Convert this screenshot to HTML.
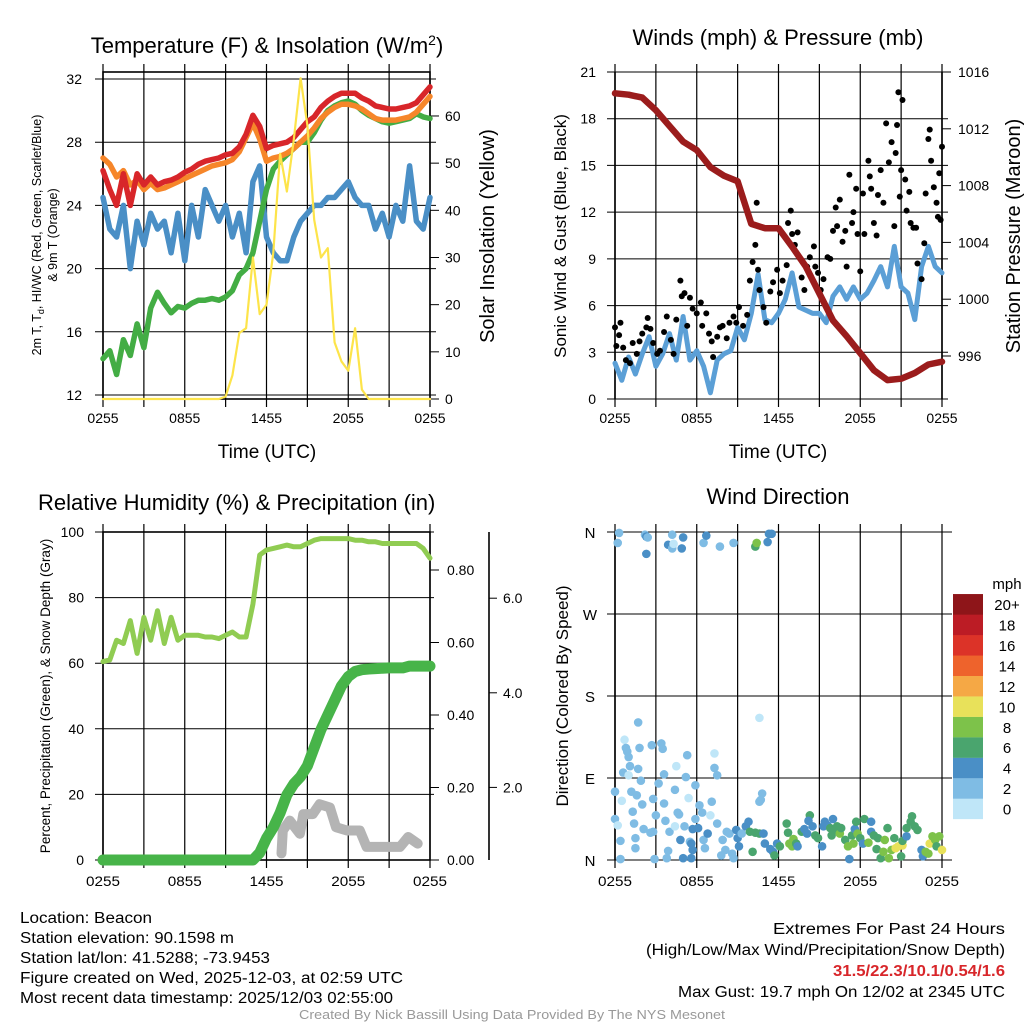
<!DOCTYPE html>
<html><head><meta charset="utf-8"><style>
html,body{margin:0;padding:0;background:#fff}
svg{display:block}
text{font-family:"Liberation Sans",sans-serif}
</style></head><body>
<svg id="c" width="1024" height="1024" viewBox="0 0 1024 1024"></svg>
<script>
// ---------- data ----------
const halfHours = Array.from({length:49},(_,k)=>k*0.5);
const tempRed = [26.2,25,24.0,26.0,24.0,26.0,25.3,25.8,25.3,25.5,25.6,25.8,26.1,26.3,26.6,26.8,26.9,27.0,27.2,27.3,27.7,28.5,29.7,29.0,27.6,27.8,27.9,28.0,28.3,28.8,29.3,29.6,30.2,30.6,30.9,31.1,31.1,31.1,30.8,30.6,30.3,30.2,30.1,30.1,30.2,30.3,30.5,31.0,31.5];
const tempOrange = [27.0,26.6,25.8,26.2,25.3,25.6,25.0,25.4,25.0,25.1,25.3,25.5,25.7,25.9,26.1,26.3,26.5,26.6,26.7,26.9,27.4,28.3,29.2,28.2,26.8,27.0,27.1,27.3,27.6,28.0,28.4,28.9,29.5,29.9,30.2,30.4,30.4,30.3,30.1,29.8,29.5,29.4,29.4,29.4,29.5,29.6,29.9,30.4,30.9];
const dewGreen = [14.3,14.8,13.3,15.5,14.5,16.5,15.0,17.5,18.5,17.8,17.2,17.6,17.5,17.8,18.0,18.0,18.1,18.0,18.2,18.6,19.6,20.0,21.0,23.0,25.0,26.3,26.8,27.2,27.6,28.0,28.0,28.6,29.4,30.0,30.3,30.5,30.6,30.4,30.0,29.7,29.5,29.3,29.2,29.3,29.4,29.5,29.8,29.6,29.5];
const windChillBlue = [24.5,22.5,22.0,24.0,20.0,23.0,21.5,23.5,22.5,23.0,21.0,23.5,20.5,24.0,22.0,25.0,24.0,23.0,24.0,22.0,23.5,21.0,25.5,26.5,22.0,21.0,20.5,20.5,22.0,23.0,23.5,24.0,24.0,24.5,24.5,25.0,25.5,24.5,24.0,24.0,22.5,23.5,22.0,24.0,23.0,26.5,23.0,22.5,24.5];
const insolation = [0,0,0,0,0,0,0,0,0,0,0,0,0,0,0,0,0,0,0.5,5,14,15,30,18,20,31,52,44,55,68,58,38,30,32,12,8,6,15,2,0,0,0,0,0,0,0,0,0,0];
const windSpeed = [2.3,1.2,2.7,1.6,2.9,4.0,2.1,2.9,4.2,2.5,5.3,2.5,3.1,2.1,0.4,2.5,2.9,3.1,4.6,3.8,5.5,8.0,5.1,4.9,5.5,6.4,8.1,5.9,5.7,5.5,5.5,4.9,6.6,7.2,6.4,7.2,6.4,6.8,7.6,8.5,7.2,9.8,7.2,6.8,5.1,8.5,9.8,8.5,8.1];
const pressureHours = [0,1,2,3,4,5,6,7,8,9,10,11,12,13,14,15,16,17,18,19,20,21,22,23,24];
const pressure = [1014.5,1014.4,1014.2,1013.3,1012.2,1011.1,1010.5,1009.3,1008.7,1008.3,1005.3,1005.0,1005.0,1003.7,1002.3,1000.4,998.5,997.4,996.2,995.0,994.3,994.4,994.8,995.4,995.6];
const gustHours = [0,0.1,0.4,0.3,0.6,0.8,1.1,1.3,1.6,1.8,2.0,2.3,2.4,2.6,2.8,3.1,3.3,3.6,3.8,4.1,4.3,4.5,4.8,4.9,5.1,5.3,5.5,5.7,6.0,6.3,6.4,6.7,6.9,7.1,7.2,7.5,7.7,7.9,8.2,8.4,8.7,8.9,9.1,9.4,9.7,9.9,10.1,10.3,10.4,10.5,10.6,10.9,11.1,11.4,11.6,11.9,12.1,12.3,12.6,12.7,12.9,13.0,13.2,13.4,13.6,13.7,13.9,14.1,14.3,14.6,14.7,14.9,15.1,15.3,15.6,15.8,16.0,16.2,16.3,16.5,16.7,16.9,17.0,17.2,17.4,17.5,17.7,17.8,18.0,18.2,18.3,18.6,18.7,18.8,19.0,19.2,19.3,19.5,19.7,19.9,20.1,20.3,20.5,20.6,20.7,20.8,20.9,21.0,21.1,21.3,21.4,21.6,21.7,21.9,22.1,22.2,22.5,22.7,22.8,23.0,23.1,23.2,23.4,23.6,23.7,23.8,24.0,23.9];
const gustSpeed = [4.6,3.4,4.9,4.1,3.3,2.5,2.3,3.6,2.9,3.7,4.2,4.6,5.2,4.5,3.6,2.9,3.1,4.3,5.3,3.8,2.9,5.1,7.6,6.6,6.8,4.7,6.5,5.8,5.5,6.2,4.7,5.5,4.2,3.7,2.7,4.0,4.6,4.7,3.9,4.9,5.3,4.9,5.9,4.7,5.4,7.6,8.8,9.9,12.6,8.3,7.0,5.9,4.9,6.9,7.5,8.3,6.8,7.6,8.6,11.3,12.1,10.6,9.9,10.7,9.0,7.8,7.0,8.5,9.1,9.8,8.5,8.1,7.0,7.7,9.1,9.0,10.8,12.3,11.1,12.8,10.1,10.8,8.5,14.4,11.3,12.0,13.5,10.6,8.2,13.2,10.6,15.3,14.3,13.5,11.3,10.5,13.1,14.7,12.6,17.7,15.2,16.5,11.1,15.8,17.6,19.7,13.0,14.7,19.2,14.1,12.1,13.3,11.3,11.0,11.0,8.7,7.7,10.0,13.2,16.7,17.3,15.3,13.6,12.6,11.7,14.5,16.2,11.5];
const relHumidity = [60.5,61,67,66,73,63,74,67,76,66,74,67,68.5,68.5,68.5,68,68,67.5,68.5,69.5,68,68,78,93,94.5,95,95.5,96,95.5,95.5,96.5,97.5,98,98,98,98,98,97.5,97.5,97,97,96.5,96.5,96.5,96.5,96.5,96.5,95,92];
const precip = [0,0,0,0,0,0,0,0,0,0,0,0,0,0,0,0,0,0,0,0,0,0,0,0.02,0.06,0.09,0.13,0.18,0.21,0.23,0.26,0.31,0.36,0.40,0.44,0.48,0.506,0.52,0.525,0.527,0.528,0.529,0.53,0.53,0.53,0.535,0.535,0.535,0.535];
const snowHours = [13.1,13.2,13.7,14.45,14.7,15.4,15.9,16.65,17.1,17.9,18.85,19.35,20.6,21.8,22.4,23.1];
const snowVals = [2,9,12,8,14,14,17,16,10,9,9,4,4,4,7,5];
const dirHours = [0.3,0.2,2.2,2.3,2.4,2.3,3.9,4.2,4.2,4.3,5.0,4.9,6.5,6.7,7.7,8.7,10.3,10.4,11.2,11.3,11.5,10.6,0.7,0.8,0.9,1.0,1.1,0.6,1.0,1.7,1.8,1.7,1.9,0,0.5,1.2,1.6,2.0,1.3,0,0.2,0.4,1.4,1.5,1.5,0.4,2.1,2.6,2.8,2.7,3.4,3.5,3.6,3.2,3.0,2.8,3.6,3.7,4.0,3.9,3.8,2.9,4.5,4.4,4.6,4.7,4.4,4.8,5.0,5.1,5.3,5.2,5.4,5.5,5.6,5.7,5.6,5.9,5.9,5.7,6.1,6.2,6.4,6.5,6.6,6.8,7.0,7.1,7.3,7.3,7.5,7.5,7.9,8.1,7.8,8.2,8.4,8.6,8.7,8.9,9.0,9.1,9.3,9.6,9.8,10.1,9.9,10.3,10.6,10.6,10.8,10.7,10.9,11.0,11.4,11.6,11.7,11.9,12.1,12.6,12.7,12.8,13.0,13.1,13.3,13.4,13.7,13.9,14.1,14.3,14.2,14.5,14.7,14.9,15.2,15.3,15.4,15.6,15.8,15.9,16.0,16.1,16.3,16.5,16.6,16.9,17.1,17.2,17.4,17.5,17.6,17.7,17.8,18.0,18.2,18.3,18.6,18.8,18.8,19.0,19.2,19.3,19.5,19.7,19.8,20.0,20.1,20.3,20.5,20.6,20.8,21.0,21.1,21.1,21.4,21.4,21.7,21.8,22.0,22.2,22.5,22.6,22.8,23.0,23.1,23.3,23.5,23.6,23.8,24.0];
const dirDegrees = [359,348,357,355,354,336,346,357,342,347,354,342,348,356,344,348,344,348,349,358,358,156,132,123,119,113,103,96,93,151,123,100,87,75,65,75,71,61,53,45,38,21,40,24,13,1,34,30,31,126,128,122,94,84,49,67,62,43,31,10,2,1,103,77,52,50,37,22,2,37,115,91,68,20,18,11,2,82,45,34,35,60,52,22,13,29,49,64,117,101,93,40,22,11,5,31,29,7,2,33,24,15,29,37,42,9,31,30,29,64,73,66,29,18,12,9,5,18,15,40,30,18,15,23,18,15,31,34,29,49,43,37,27,24,15,37,42,38,35,27,45,33,37,29,35,22,15,1,27,18,34,42,29,24,18,45,19,42,31,27,12,24,2,9,22,35,2,11,24,13,15,4,16,21,35,26,42,48,37,33,11,4,9,7,18,26,22,15,26,11];
const dirSpeed = [2,2,2,4,2,4,4,2,2,0,4,4,2,4,2,2,6,8,4,4,4,0,0,2,2,2,2,2,0,2,2,2,2,2,0,2,2,2,2,2,0,2,2,2,2,2,2,2,2,2,2,2,2,2,2,2,2,2,2,2,2,2,0,2,2,2,0,4,4,2,2,2,0,2,4,4,4,2,2,4,4,2,2,2,2,4,0,2,0,2,2,2,2,2,2,2,2,2,2,4,4,4,2,4,4,6,6,6,6,2,2,2,4,4,4,4,6,4,6,6,6,8,8,8,6,4,6,4,4,6,4,4,6,6,4,4,4,4,6,6,4,6,6,8,6,6,8,4,6,8,4,6,8,6,4,6,8,4,4,6,6,6,6,8,8,6,8,8,6,10,10,6,10,6,6,4,6,6,6,6,4,4,8,8,10,8,8,6,8,10];
const speedBinColors = ['#bfe6f8','#7fbce4','#4a8fc6','#4aa56e','#7dc24a','#e8e15a','#f5a845','#ee632c','#dc3328','#bc1c25','#8e1519'];
const speedBinLabels = ['0','2','4','6','8','10','12','14','16','18','20+'];
const timeTickLabels = ['0255','0855','1455','2055','0255'];
const tempTicks = [12,16,20,24,28,32];
const insolTicks = [0,10,20,30,40,50,60];
const windTicks = [0,3,6,9,12,15,18,21];
const presTicks = [996,1000,1004,1008,1012,1016];
const rhTicks = [0,20,40,60,80,100];
const precipTicks = [0,0.2,0.4,0.6,0.8];
const snowTicks = [2,4,6];
const dirTicks = ['N','E','S','W','N'];

// ---------- helpers ----------
const NS='http://www.w3.org/2000/svg';
const svg=document.getElementById('c');
function mk(tag,attrs,parent){const e=document.createElementNS(NS,tag);for(const k in attrs)e.setAttribute(k,attrs[k]);(parent||svg).appendChild(e);return e;}
function txt(s,x,y,size,anchor,parent,extra){const t=mk('text',Object.assign({x:x,y:y,'font-size':size,'text-anchor':anchor||'start',fill:'#000'},extra||{}),parent);t.textContent=s;return t;}
function grp(){return mk('g',{});}

const L0=103,L1=430,R0=615,R1=942;
const xL=h=>L0+h/24*(L1-L0);
const xR=h=>R0+h/24*(R1-R0);
const yTemp=v=>395-(v-12)*15.8;
const yIns=v=>399-v*4.717;
const yWind=v=>399-v*(327/21);
const yPres=p=>356-(p-996)*14.2;
const yRH=v=>860-v*3.28;
const yPrecip=v=>860-v*362.5;
const yDir=d=>860-d*(328/360);

function frame(x0,x1,yt,yb,parent){
  for(let i=0;i<=8;i++){const x=x0+i*(x1-x0)/8;
    const l=mk('line',{x1:x,y1:yt-8,x2:x,y2:yb+8,stroke:'#000','stroke-width':1.2},parent);
    
    }
}
function poly(xs,ys,color,w,parent){
  const pts=xs.map((x,i)=>x.toFixed(1)+','+ys[i].toFixed(1)).join(' ');
  return mk('polyline',{points:pts,fill:'none',stroke:color,'stroke-width':w,'stroke-linejoin':'round','stroke-linecap':'round'},parent);
}

// ===== Panel 1 =====
const p1=grp();


frame(L0,L1,72,399,p1);
tempTicks.forEach(v=>{const y=yTemp(v);
  const l=mk('line',{x1:L0-8,y1:y,x2:L1+6,y2:y,stroke:'#000','stroke-width':1},p1);
  
  
  const t=txt(String(v),82,y+5,14,'end',p1);
  
  });
insolTicks.forEach(v=>{const y=yIns(v);
  mk('line',{x1:L1,y1:y,x2:L1+9,y2:y,stroke:'#000','stroke-width':1},p1);
  const t=txt(String(v),445,y+5,14,'start',p1);
  
  });
mk('rect',{x:L0,y:72,width:L1-L0,height:327,fill:'none',stroke:'#000','stroke-width':1.6},p1);
const sBlue=poly(halfHours.map(xL),windChillBlue.map(yTemp),'#4a8fc6',5.5,p1);


const sGreen=poly(halfHours.map(xL),dewGreen.map(yTemp),'#43ad44',5.5,p1);


const sOr=poly(halfHours.map(xL),tempOrange.map(yTemp),'#f6862a',5.5,p1);


const sRed=poly(halfHours.map(xL),tempRed.map(yTemp),'#d8262a',5.5,p1);


const sYel=poly(halfHours.map(xL),insolation.map(yIns),'#fde44a',2.2,p1);


timeTickLabels.forEach((s,i)=>{const t=txt(s,L0+i*(L1-L0)/4,423,14,'middle',p1);
  
  });
let t1=txt('Time (UTC)',267,458,19,'middle',p1);


let tt1=mk('text',{x:267,y:53,'font-size':22,'text-anchor':'middle',fill:'#000'},p1);
tt1.innerHTML='Temperature (F) &amp; Insolation (W/m<tspan dy="-8" font-size="14">2</tspan><tspan dy="8">)</tspan>';


let ya1=mk('text',{x:0,y:0,'font-size':12.5,'text-anchor':'middle',fill:'#000',transform:'translate(41,235) rotate(-90)'},p1);
ya1.innerHTML='2m T, T<tspan dy="3" font-size="9">d</tspan><tspan dy="-3">, HI/WC (Red, Green, Scarlet/Blue)</tspan>';


let ya1b=txt('& 9m T (Orange)',0,0,12.5,'middle',p1,{transform:'translate(57,235) rotate(-90)'});


let yr1=txt('Solar Insolation (Yellow)',0,0,20,'middle',p1,{transform:'translate(494,236) rotate(-90)'});



// ===== Panel 2 =====
const p2=grp();


frame(R0,R1,72,399,p2);
windTicks.forEach(v=>{const y=yWind(v);
  mk('line',{x1:R0-8,y1:y,x2:R1+6,y2:y,stroke:'#000','stroke-width':1},p2);
  const t=txt(String(v),596,y+5,14,'end',p2);
  
  });
presTicks.forEach(v=>{const y=yPres(v);
  mk('line',{x1:R1,y1:y,x2:R1+9,y2:y,stroke:'#000','stroke-width':1},p2);
  const t=txt(String(v),958,y+5,14,'start',p2);
  
  });
mk('line',{x1:R0,y1:72,x2:R0,y2:399,stroke:'#000','stroke-width':1.6},p2);
mk('line',{x1:R1,y1:72,x2:R1,y2:399,stroke:'#000','stroke-width':1.6},p2);
const sWind=poly(halfHours.map(xR),windSpeed.map(yWind),'#5b9fd6',5,p2);


gustHours.forEach((h,i)=>{const c=mk('circle',{cx:xR(h),cy:yWind(gustSpeed[i]),r:3,fill:'#000'},p2);
  
  });
const sPres=poly(pressureHours.map(xR),pressure.map(yPres),'#9b1c1c',6.5,p2);


timeTickLabels.forEach((s,i)=>{const t=txt(s,R0+i*(R1-R0)/4,423,14,'middle',p2);
  
  });
let t2=txt('Time (UTC)',778,458,19,'middle',p2);


let tt2=txt('Winds (mph) & Pressure (mb)',778,45,22,'middle',p2);


let ya2=txt('Sonic Wind & Gust (Blue, Black)',0,0,17,'middle',p2,{transform:'translate(566,236) rotate(-90)'});


let yr2=txt('Station Pressure (Maroon)',0,0,20,'middle',p2,{transform:'translate(1020,236) rotate(-90)'});



// ===== Panel 3 =====
const p3=grp();


frame(L0,L1,532,860,p3);
rhTicks.forEach(v=>{const y=yRH(v);
  mk('line',{x1:L0-8,y1:y,x2:L1+4,y2:y,stroke:'#000','stroke-width':1},p3);
  const t=txt(String(v),84,y+5,14,'end',p3);
  
  });
precipTicks.forEach(v=>{const y=yPrecip(v);
  mk('line',{x1:L1,y1:y,x2:L1+9,y2:y,stroke:'#000','stroke-width':1},p3);
  const t=txt(v.toFixed(2),447,y+5,14,'start',p3);
  
  });
mk('line',{x1:489,y1:532,x2:489,y2:860,stroke:'#000','stroke-width':1.6},p3);
snowTicks.forEach(v=>{const y=882-v*47.3;
  mk('line',{x1:489,y1:y,x2:497,y2:y,stroke:'#000','stroke-width':1},p3);
  const t=txt(v.toFixed(1),503,y+5,14,'start',p3);
  
  });
mk('rect',{x:L0,y:532,width:L1-L0,height:328,fill:'none',stroke:'#000','stroke-width':1.6},p3);
const sRH=poly(halfHours.map(xL),relHumidity.map(yRH),'#90cc52',5,p3);


const sSnow=poly(snowHours.map(xL),snowVals.map(yRH),'#b4b4b4',10,p3);


const sPr=poly(halfHours.map(xL),precip.map(yPrecip),'#47b449',11,p3);


timeTickLabels.forEach((s,i)=>{const t=txt(s,L0+i*(L1-L0)/4,886,14,'middle',p3,{textLength:34,lengthAdjust:'spacingAndGlyphs'});
  
  });
let tt3=txt('Relative Humidity (%) & Precipitation (in)',38,510,22,'start',p3);


let ya3=txt('Percent, Precipitation (Green), & Snow Depth (Gray)',0,0,13.5,'middle',p3,{transform:'translate(50,696) rotate(-90)'});



// ===== Panel 4 =====
const p4=grp();


frame(R0,R1,532,860,p4);
dirTicks.forEach((s,i)=>{const y=yDir(i*90);
  mk('line',{x1:R0-8,y1:y,x2:R1+10,y2:y,stroke:'#000','stroke-width':1},p4);
  const t=txt(s,590,y+6,15,'middle',p4);
  
  });
mk('line',{x1:R0,y1:532,x2:R0,y2:860,stroke:'#000','stroke-width':1.6},p4);
dirHours.forEach((h,i)=>{const bin=Math.min(10,Math.floor(dirSpeed[i]/2));
  const c=mk('circle',{cx:xR(h),cy:yDir(dirDegrees[i]),r:4.3,fill:speedBinColors[bin]},p4);
  
  });
timeTickLabels.forEach((s,i)=>{const t=txt(s,R0+i*(R1-R0)/4,886,14,'middle',p4,{textLength:34,lengthAdjust:'spacingAndGlyphs'});
  
  });
let tt4=txt('Wind Direction',778,504,22,'middle',p4);


let ya4=txt('Direction (Colored By Speed)',0,0,17,'middle',p4,{transform:'translate(568,696) rotate(-90)'});


const cb=grp();


speedBinColors.forEach((col,i)=>{const y=819-(i+1)*20.45;
  const r=mk('rect',{x:953,y:y,width:30,height:20.6,fill:col},cb);
  
  
  const t=txt(speedBinLabels[i],1007,y+16,15,'middle',cb);
  
  });
let cbt=txt('mph',1007,589,15,'middle',cb);



// ===== Footer =====
const ft=grp();


const leftLines=['Location: Beacon','Station elevation: 90.1598 m','Station lat/lon: 41.5288; -73.9453','Figure created on Wed, 2025-12-03, at 02:59 UTC','Most recent data timestamp: 2025/12/03 02:55:00'];
const leftLens=[132,214,250,383,373];
leftLines.forEach((s,i)=>{const t=txt(s,20,923+i*20,15.5,'start',ft,{textLength:leftLens[i],lengthAdjust:'spacingAndGlyphs'});
  
  });
const rightLines=['Extremes For Past 24 Hours','(High/Low/Max Wind/Precipitation/Snow Depth)','31.5/22.3/10.1/0.54/1.6','Max Gust: 19.7 mph On 12/02 at 2345 UTC'];
const rightLens=[232,359,172,327];
const rightColors=['#000','#000','#d8262a','#000'];
rightLines.forEach((s,i)=>{const t=txt(s,1005,934+i*21,15.5,'end',ft,{textLength:rightLens[i],lengthAdjust:'spacingAndGlyphs',fill:rightColors[i],'font-weight':i==2?'bold':'normal'});
  
  });
let cr=txt('Created By Nick Bassill Using Data Provided By The NYS Mesonet',512,1019,13,'middle',ft,{fill:'#999',textLength:426,lengthAdjust:'spacingAndGlyphs'});


</script>
</body></html>
